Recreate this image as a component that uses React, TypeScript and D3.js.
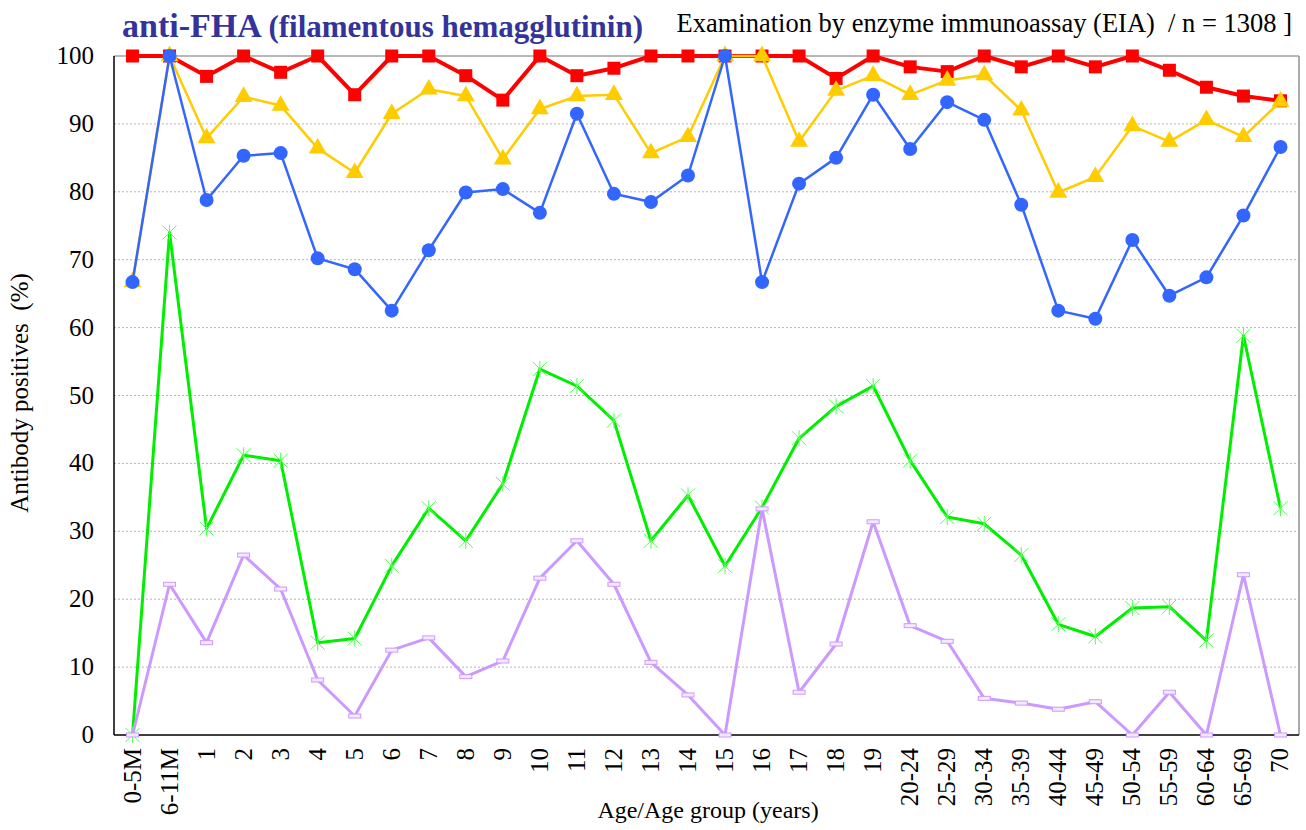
import { useEffect, useRef } from 'react';
import * as d3 from 'd3';

const categories = ['0-5M', '6-11M', '1', '2', '3', '4', '5', '6', '7', '8', '9', '10', '11', '12', '13', '14', '15', '16', '17', '18', '19',
  '20-24', '25-29', '30-34', '35-39', '40-44', '45-49', '50-54', '55-59', '60-64', '65-69', '70'];

const red = [100, 100, 97.0, 100, 97.6, 100, 94.3, 100, 100, 97.1, 93.5, 100, 97.1, 98.2, 100, 100, 100, 100, 100, 96.7, 100,
  98.4, 97.7, 100, 98.4, 100, 98.4, 100, 97.9, 95.4, 94.1, 93.4];
const yellow = [66.7, 100, 87.9, 94.0, 92.7, 86.4, 82.8, 91.5, 95.1, 94.1, 84.8, 92.2, 94.1, 94.3, 85.7, 88.1, 100, 100, 87.4, 94.9, 97.1,
  94.3, 96.4, 97.2, 92.0, 79.9, 82.2, 89.7, 87.4, 90.6, 88.1, 93.3];
const blue = [66.7, 100, 78.8, 85.3, 85.7, 70.2, 68.6, 62.5, 71.4, 79.9, 80.4, 76.9, 91.5, 79.7, 78.5, 82.4, 100, 66.7, 81.2, 85.0, 94.3,
  86.3, 93.2, 90.6, 78.1, 62.5, 61.3, 72.9, 64.7, 67.4, 76.5, 86.6];
const green = [0, 74.0, 30.4, 41.2, 40.4, 13.6, 14.2, 24.9, 33.4, 28.6, 37.0, 53.9, 51.4, 46.3, 28.6, 35.3, 24.9, 33.5, 43.7, 48.4, 51.4,
  40.4, 32.1, 31.1, 26.5, 16.3, 14.5, 18.7, 18.9, 13.9, 58.8, 33.4];
const purple = [0, 22.2, 13.6, 26.5, 21.5, 8.1, 2.8, 12.5, 14.3, 8.6, 10.9, 23.1, 28.6, 22.2, 10.7, 5.9, 0, 33.3, 6.3, 13.4, 31.4,
  16.1, 13.8, 5.4, 4.7, 3.8, 4.9, 0, 6.3, 0, 23.6, 0];

const yTicks = [0, 10, 20, 30, 40, 50, 60, 70, 80, 90, 100];

const font = 'Liberation Serif';

const App = () => {
  const svgRef = useRef(null);

  useEffect(() => {
    const width = 1306;
    const height = 830;
    const left = 114, right = 1299, top = 56, bottom = 735;

    const svg = d3.select(svgRef.current);
    svg.selectAll('*').remove();
    svg.attr('width', width).attr('height', height).attr('font-family', font);

    const x = d3.scaleBand().domain(categories).range([left, right]);
    const cx = (i) => x(categories[i]) + x.bandwidth() / 2;
    const y = d3.scaleLinear().domain([0, 100]).range([bottom, top]);

    // grid
    svg.append('g')
      .selectAll('line')
      .data(yTicks.filter(d => d > 0 && d < 100))
      .join('line')
      .attr('x1', left).attr('x2', right)
      .attr('y1', d => y(d)).attr('y2', d => y(d))
      .attr('stroke', '#b4b4b4')
      .attr('stroke-width', 1)
      .attr('stroke-dasharray', '2,2');

    // frame
    svg.append('line').attr('x1', left).attr('x2', right).attr('y1', top).attr('y2', top)
      .attr('stroke', '#707070').attr('stroke-width', 1);
    svg.append('line').attr('x1', right).attr('x2', right).attr('y1', top).attr('y2', bottom)
      .attr('stroke', '#909090').attr('stroke-width', 1.5);
    svg.append('line').attr('x1', left).attr('x2', left).attr('y1', top).attr('y2', bottom)
      .attr('stroke', '#000').attr('stroke-width', 1.5);
    svg.append('line').attr('x1', left).attr('x2', right).attr('y1', bottom).attr('y2', bottom)
      .attr('stroke', '#000').attr('stroke-width', 1.5);

    // y tick labels
    svg.append('g')
      .selectAll('text')
      .data(yTicks)
      .join('text')
      .attr('x', 94)
      .attr('y', d => y(d) + 8)
      .attr('text-anchor', 'end')
      .attr('font-family', font)
      .attr('font-size', 25)
      .text(d => d);

    // x tick labels
    svg.append('g')
      .selectAll('text')
      .data(categories)
      .join('text')
      .attr('transform', (d, i) => `translate(${cx(i) + 8}, 748) rotate(-90)`)
      .attr('text-anchor', 'end')
      .attr('font-family', font)
      .attr('font-size', 25)
      .text(d => d);

    // axis titles
    svg.append('text')
      .attr('x', 708).attr('y', 818)
      .attr('text-anchor', 'middle')
      .attr('font-family', font)
      .attr('font-size', 24)
      .text('Age/Age group (years)');
    svg.append('text')
      .attr('transform', 'translate(28, 393) rotate(-90)')
      .attr('text-anchor', 'middle')
      .attr('font-family', font)
      .attr('font-size', 25)
      .style('white-space', 'pre')
      .text('Antibody positives  (%)');

    // titles
    const t = svg.append('text')
      .attr('x', 122).attr('y', 37)
      .attr('fill', '#333399')
      .attr('font-family', font)
      .attr('font-weight', 'bold');
    t.append('tspan').attr('font-size', 34).text('anti-FHA ');
    t.append('tspan').attr('font-size', 31).text('(filamentous hemagglutinin)');

    svg.append('text')
      .attr('x', 1292).attr('y', 32)
      .attr('text-anchor', 'end')
      .attr('font-family', font)
      .attr('font-size', 26.5)
      .style('white-space', 'pre')
      .text('Examination by enzyme immunoassay (EIA)  / n = 1308 ]');

    const line = d3.line()
      .x((d, i) => cx(i))
      .y(d => y(d));

    // red
    svg.append('path').attr('d', line(red)).attr('fill', 'none')
      .attr('stroke', '#ff0000').attr('stroke-width', 4).attr('stroke-linejoin', 'round');
    svg.append('g').selectAll('rect').data(red).join('rect')
      .attr('x', (d, i) => cx(i) - 6.5).attr('y', d => y(d) - 6.5)
      .attr('width', 13).attr('height', 13)
      .attr('fill', '#ff0000');

    // yellow
    svg.append('path').attr('d', line(yellow)).attr('fill', 'none')
      .attr('stroke', '#ffcc00').attr('stroke-width', 2.5).attr('stroke-linejoin', 'round');
    svg.append('g').selectAll('path').data(yellow).join('path')
      .attr('d', d3.symbol(d3.symbolTriangle, 140))
      .attr('transform', (d, i) => `translate(${cx(i)}, ${y(d)})`)
      .attr('fill', '#ffcc00');

    // blue
    svg.append('path').attr('d', line(blue)).attr('fill', 'none')
      .attr('stroke', '#3366ff').attr('stroke-width', 2.5).attr('stroke-linejoin', 'round');
    svg.append('g').selectAll('circle').data(blue).join('circle')
      .attr('cx', (d, i) => cx(i)).attr('cy', d => y(d))
      .attr('r', 7)
      .attr('fill', '#3366ff');

    // green
    svg.append('path').attr('d', line(green)).attr('fill', 'none')
      .attr('stroke', '#00ee00').attr('stroke-width', 3).attr('stroke-linejoin', 'round');
    svg.append('g').selectAll('path').data(green).join('path')
      .attr('d', 'M-7,-7L7,7M-7,7L7,-7M0,-8L0,8')
      .attr('transform', (d, i) => `translate(${cx(i)}, ${y(d)})`)
      .attr('stroke', '#55ff55').attr('stroke-width', 1)
      .attr('fill', 'none');

    // purple
    svg.append('path').attr('d', line(purple)).attr('fill', 'none')
      .attr('stroke', '#cc99ff').attr('stroke-width', 3).attr('stroke-linejoin', 'round');
    svg.append('g').selectAll('rect').data(purple).join('rect')
      .attr('x', (d, i) => cx(i) - 6).attr('y', d => y(d) - 2)
      .attr('width', 12).attr('height', 4)
      .attr('fill', '#f4eaff')
      .attr('stroke', '#cc99ff').attr('stroke-width', 1);
  }, []);

  return <svg ref={svgRef} style={{ position: 'absolute', left: 0, top: 0 }}></svg>;
};

export default App;
